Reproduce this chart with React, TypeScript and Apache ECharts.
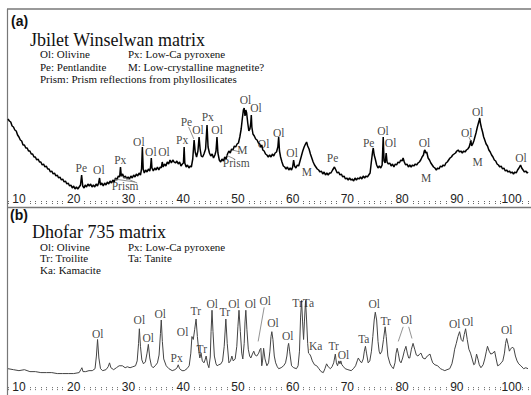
import React, { useEffect, useRef } from "react";
import * as echarts from "echarts";

// 2θ (deg) vs intensity (a.u.) — Jbilet Winselwan matrix
const jbiletTrace: [number, number][] = [
  [8.0, 88], [8.25, 86], [8.5, 85], [8.75, 81], [9.0, 80], [9.25, 77], [9.5, 76], [9.75, 72], [10.0, 70], [10.25, 67],
  [10.5, 66], [10.75, 62], [11.0, 62], [11.25, 59], [11.5, 59], [11.75, 56], [12.0, 56], [12.25, 53], [12.5, 53], [12.75, 50],
  [13.0, 50], [13.25, 47], [13.5, 48], [13.75, 45], [14.0, 45], [14.25, 42], [14.5, 43], [14.75, 40], [15.0, 41], [15.25, 38],
  [15.5, 38], [15.75, 35], [16.0, 36], [16.25, 33], [16.5, 34], [16.75, 31], [17.0, 32], [17.25, 29], [17.5, 30], [17.75, 27],
  [18.0, 28], [18.25, 25], [18.5, 26], [18.75, 23], [19.0, 24], [19.25, 21], [19.5, 22], [19.75, 19], [20.0, 21], [20.25, 18],
  [20.5, 20], [20.75, 18], [21.0, 20], [21.25, 22], [21.45, 32], [21.65, 21], [21.9, 19], [22.1, 22], [22.35, 20], [22.6, 23],
  [22.85, 21], [23.1, 23], [23.35, 20], [23.6, 22], [23.85, 20], [24.1, 23], [24.35, 21], [24.55, 24], [24.73, 29], [24.9, 22],
  [25.15, 24], [25.4, 21], [25.65, 24], [25.9, 22], [26.15, 25], [26.4, 23], [26.65, 26], [26.9, 24], [27.15, 27], [27.4, 25],
  [27.65, 29], [27.9, 27], [28.15, 31], [28.4, 30], [28.55, 40], [28.7, 31], [28.95, 33], [29.2, 29], [29.45, 31], [29.7, 28],
  [29.95, 30], [30.2, 28], [30.45, 31], [30.7, 29], [30.95, 32], [31.2, 30], [31.45, 33], [31.7, 31], [31.95, 34], [32.2, 32],
  [32.4, 38], [32.55, 60], [32.7, 38], [32.9, 34], [33.15, 37], [33.4, 35], [33.65, 38], [33.9, 36], [34.05, 40], [34.18, 49],
  [34.3, 39], [34.55, 36], [34.8, 39], [35.05, 37], [35.3, 40], [35.55, 37], [35.8, 40], [36.0, 39], [36.18, 45], [36.35, 40],
  [36.6, 43], [36.85, 41], [37.1, 45], [37.35, 43], [37.6, 47], [37.85, 44], [38.1, 47], [38.35, 45], [38.6, 44], [38.85, 46],
  [39.1, 43], [39.35, 45], [39.6, 41], [39.85, 43], [40.05, 44], [40.18, 60], [40.3, 44], [40.55, 40], [40.8, 42], [41.05, 39],
  [41.3, 41], [41.5, 40], [41.75, 48], [42.0, 67], [42.2, 55], [42.45, 50], [42.7, 56], [42.91, 70], [43.1, 58], [43.3, 51],
  [43.55, 50], [43.8, 53], [44.1, 58], [44.36, 82], [44.55, 60], [44.8, 54], [45.05, 51], [45.3, 53], [45.55, 49], [45.8, 52],
  [46.0, 56], [46.18, 70], [46.35, 54], [46.6, 47], [46.85, 45], [47.1, 48], [47.35, 46], [47.6, 50], [47.85, 48], [48.1, 53],
  [48.35, 56], [48.6, 54], [48.85, 58], [49.1, 57], [49.35, 61], [49.6, 60], [49.85, 63], [50.1, 64], [50.35, 70], [50.6, 78],
  [50.8, 88], [51.0, 97], [51.15, 99], [51.3, 91], [51.45, 97], [51.6, 94], [51.8, 84], [52.0, 76], [52.2, 78], [52.35, 84],
  [52.45, 92], [52.55, 80], [52.75, 73], [53.0, 71], [53.25, 68], [53.5, 67], [53.75, 64], [54.0, 63], [54.2, 60], [54.36, 62],
  [54.55, 57], [54.8, 56], [55.05, 53], [55.3, 52], [55.55, 50], [55.8, 52], [56.05, 50], [56.3, 53], [56.55, 51], [56.8, 54],
  [57.05, 55], [57.3, 60], [57.45, 70], [57.6, 56], [57.8, 50], [58.05, 45], [58.3, 41], [58.55, 40], [58.8, 38], [59.05, 40],
  [59.3, 37], [59.55, 39], [59.8, 37], [60.0, 40], [60.18, 47], [60.35, 41], [60.6, 39], [60.85, 42], [61.1, 41], [61.35, 46],
  [61.6, 51], [61.85, 56], [62.1, 60], [62.35, 63], [62.55, 65], [62.75, 61], [63.0, 58], [63.25, 53], [63.5, 49], [63.75, 45],
  [64.0, 42], [64.25, 40], [64.5, 38], [64.75, 37], [65.0, 35], [65.25, 36], [65.5, 33], [65.75, 35], [66.0, 32], [66.25, 34],
  [66.5, 32], [66.75, 34], [67.0, 34], [67.3, 37], [67.64, 40], [67.9, 37], [68.15, 34], [68.4, 35], [68.65, 32], [68.9, 33],
  [69.15, 30], [69.4, 31], [69.65, 28], [69.9, 29], [70.15, 27], [70.4, 29], [70.65, 27], [70.9, 28], [71.15, 26], [71.4, 29],
  [71.65, 27], [71.9, 29], [72.15, 28], [72.4, 30], [72.65, 28], [72.9, 31], [73.15, 29], [73.4, 31], [73.65, 30], [73.9, 32],
  [74.15, 34], [74.4, 46], [74.6, 55], [74.73, 59], [74.9, 52], [75.1, 48], [75.35, 42], [75.6, 39], [75.85, 41], [76.1, 39],
  [76.35, 42], [76.55, 70], [76.7, 46], [76.9, 44], [77.09, 54], [77.25, 45], [77.5, 43], [77.75, 44], [78.0, 41], [78.25, 43],
  [78.5, 40], [78.75, 43], [79.0, 42], [79.25, 45], [79.5, 44], [79.75, 47], [80.0, 46], [80.18, 49], [80.4, 45], [80.65, 42],
  [80.9, 43], [81.15, 40], [81.4, 42], [81.65, 40], [81.9, 42], [82.15, 41], [82.4, 43], [82.65, 42], [82.9, 44], [83.15, 45],
  [83.4, 47], [83.65, 50], [83.9, 52], [84.05, 56], [84.18, 57], [84.3, 54], [84.5, 55], [84.75, 49], [85.0, 47], [85.25, 44],
  [85.5, 42], [85.75, 40], [86.0, 39], [86.25, 37], [86.5, 39], [86.75, 38], [87.0, 41], [87.25, 40], [87.5, 42], [87.75, 41],
  [88.0, 44], [88.25, 45], [88.5, 47], [88.75, 49], [89.0, 50], [89.25, 52], [89.5, 53], [89.75, 54], [90.0, 56], [90.25, 57],
  [90.5, 55], [90.75, 56], [91.0, 54], [91.25, 56], [91.5, 55], [91.75, 57], [92.0, 58], [92.25, 60], [92.45, 64], [92.55, 67],
  [92.7, 61], [92.9, 63], [93.1, 66], [93.3, 70], [93.5, 74], [93.75, 80], [93.95, 84], [94.1, 87], [94.18, 89], [94.3, 84],
  [94.5, 79], [94.7, 75], [94.9, 70], [95.1, 67], [95.35, 63], [95.6, 61], [95.85, 57], [96.1, 55], [96.35, 52], [96.6, 50],
  [96.85, 47], [97.1, 46], [97.35, 43], [97.6, 42], [97.85, 40], [98.1, 41], [98.35, 38], [98.6, 39], [98.85, 36], [99.1, 37],
  [99.35, 35], [99.6, 36], [99.85, 34], [100.1, 35], [100.35, 33], [100.6, 35], [100.85, 34], [101.1, 37], [101.35, 39], [101.64, 42],
  [101.85, 39], [102.1, 37], [102.35, 35], [102.6, 36], [102.85, 34], [103.0, 35],
];

// 2θ (deg) vs intensity (a.u.) — Dhofar 735 matrix
const dhofarTrace: [number, number][] = [
  [8.0, 22], [9.0, 21], [10.0, 20], [11.0, 21], [12.0, 19], [13.0, 19], [14.0, 18], [15.0, 18], [16.0, 18], [17.0, 17],
  [18.0, 17], [19.0, 17], [20.0, 17], [21.0, 18], [21.3, 21], [21.5, 23], [21.7, 19], [22.2, 19], [22.8, 20], [23.4, 20],
  [23.9, 22], [24.15, 35], [24.36, 52], [24.6, 33], [24.9, 22], [25.3, 20], [25.9, 21], [26.3, 24], [26.55, 28], [26.8, 23],
  [27.3, 21], [27.8, 23], [28.3, 25], [28.9, 25], [29.4, 23], [29.8, 24], [30.3, 23], [30.8, 24], [31.3, 25], [31.6, 30],
  [31.85, 48], [32.0, 63], [32.2, 45], [32.45, 31], [32.75, 27], [33.1, 29], [33.4, 38], [33.64, 47], [33.9, 33], [34.2, 25],
  [34.5, 23], [34.9, 25], [35.3, 28], [35.6, 36], [35.85, 58], [36.0, 72], [36.2, 50], [36.45, 32], [36.9, 25], [37.4, 22],
  [38.0, 20], [38.5, 21], [38.9, 23], [39.1, 26], [39.35, 22], [39.8, 20], [40.2, 20], [40.7, 22], [41.1, 25], [41.4, 38],
  [41.6, 55], [41.85, 52], [42.1, 62], [42.36, 73], [42.6, 55], [42.85, 40], [43.05, 33], [43.27, 38], [43.5, 30], [43.8, 28],
  [44.0, 31], [44.2, 35], [44.45, 27], [44.7, 23], [44.95, 34], [45.1, 60], [45.27, 82], [45.45, 60], [45.7, 35], [46.0, 27],
  [46.2, 25], [46.5, 26], [46.9, 27], [47.2, 30], [47.5, 45], [47.8, 73], [48.05, 48], [48.36, 28], [48.65, 30], [48.9, 35],
  [49.15, 30], [49.5, 32], [49.8, 45], [50.0, 65], [50.2, 82], [50.45, 60], [50.7, 38], [50.9, 32], [51.15, 48], [51.3, 70],
  [51.45, 82], [51.65, 62], [51.9, 42], [52.15, 35], [52.36, 33], [52.65, 37], [52.9, 40], [53.15, 36], [53.45, 35], [53.8, 38],
  [54.05, 42], [54.2, 43], [54.36, 25], [54.5, 30], [54.7, 43], [54.95, 32], [55.3, 25], [55.6, 28], [55.85, 40], [56.05, 55],
  [56.2, 60], [56.4, 52], [56.65, 35], [56.9, 28], [57.2, 24], [57.45, 22], [57.9, 23], [58.36, 25], [58.7, 28], [58.95, 35],
  [59.15, 45], [59.27, 48], [59.45, 40], [59.8, 25], [60.2, 23], [60.7, 22], [61.0, 25], [61.25, 40], [61.45, 75], [61.64, 92],
  [61.82, 70], [62.0, 52], [62.15, 70], [62.36, 92], [62.55, 72], [62.75, 48], [62.9, 38], [63.1, 37], [63.3, 35], [63.6, 30],
  [64.0, 26], [64.4, 25], [64.8, 22], [65.2, 19], [65.6, 18], [65.9, 22], [66.2, 27], [66.5, 24], [66.9, 22], [67.2, 24],
  [67.5, 28], [67.8, 37], [68.0, 28], [68.2, 25], [68.45, 30], [68.65, 27], [68.8, 30], [69.0, 26], [69.3, 24], [69.6, 22],
  [70.1, 21], [70.7, 20], [71.1, 22], [71.5, 25], [71.8, 30], [72.0, 33], [72.3, 30], [72.6, 28], [72.9, 32], [73.1, 40],
  [73.3, 45], [73.5, 38], [73.8, 28], [74.1, 30], [74.4, 40], [74.65, 55], [74.9, 72], [75.1, 80], [75.35, 72], [75.6, 50],
  [75.8, 40], [76.0, 37], [76.3, 40], [76.6, 52], [76.9, 65], [77.1, 55], [77.4, 35], [77.8, 27], [78.1, 24], [78.4, 22],
  [78.7, 28], [78.9, 38], [79.1, 43], [79.3, 38], [79.55, 30], [79.8, 28], [80.1, 33], [80.4, 40], [80.7, 45], [80.95, 38],
  [81.2, 33], [81.4, 33], [81.7, 42], [82.0, 48], [82.3, 42], [82.6, 36], [82.9, 35], [83.2, 37], [83.45, 38], [83.8, 33],
  [84.2, 32], [84.6, 35], [85.1, 37], [85.35, 32], [85.6, 28], [86.0, 26], [86.5, 25], [87.0, 22], [87.4, 21], [87.8, 20],
  [88.2, 21], [88.7, 22], [89.1, 27], [89.4, 35], [89.6, 42], [89.9, 48], [90.2, 55], [90.5, 60], [90.8, 52], [91.1, 50],
  [91.35, 57], [91.6, 63], [91.9, 52], [92.2, 42], [92.5, 38], [92.8, 32], [93.1, 26], [93.3, 27], [93.6, 37], [93.85, 32],
  [94.1, 26], [94.4, 23], [94.8, 26], [95.1, 32], [95.4, 40], [95.6, 45], [95.9, 40], [96.2, 37], [96.6, 38], [96.9, 40],
  [97.15, 33], [97.45, 25], [97.8, 26], [98.1, 28], [98.4, 30], [98.7, 38], [98.9, 48], [99.1, 53], [99.35, 47], [99.6, 40],
  [99.8, 42], [100.1, 44], [100.4, 43], [100.7, 35], [101.0, 30], [101.3, 27], [101.7, 25], [102.2, 22], [102.6, 23], [103.0, 22],
];

// Peak annotations: [label, 2θ, intensity]
const jbiletPeaks: [string, number, number][] = [
  ["Pe", 21.4, 39], ["Ol", 24.6, 37], ["Px", 28.5, 47], ["Prism", 29.4, 21.5], ["Ol", 31.9, 65],
  ["Ol", 34.1, 55], ["Ol", 36.5, 55], ["Px", 39.8, 67], ["Pe", 40.6, 85], ["Ol", 42.7, 77],
  ["Px", 44.5, 90], ["Ol", 46.2, 77], ["Prism", 49.7, 44], ["M", 50.8, 57], ["Ol", 51.4, 107],
  ["Ol", 53.3, 99], ["Ol", 54.7, 63], ["Ol", 57.45, 74], ["Ol", 59.9, 54], ["M", 62.6, 35],
  ["Pe", 67.3, 49], ["Pe", 73.9, 64], ["Ol", 76.5, 76], ["Ol", 77.9, 64], ["Ol", 84.1, 64],
  ["M", 84.4, 29], ["Ol", 91.8, 74], ["Ol", 93.8, 95], ["M", 93.8, 45], ["Ol", 101.7, 49],
];

const dhofarPeaks: [string, number, number][] = [
  ["Ol", 24.4, 58], ["Ol", 32.0, 72], ["Ol", 33.6, 54], ["Ol", 35.8, 78], ["Px", 38.8, 33],
  ["Ol", 39.9, 60], ["Tr", 42.3, 81], ["Tr", 43.4, 42], ["Ol", 45.3, 88], ["Tr", 47.6, 80],
  ["Ol", 49.3, 88], ["Ol", 52.3, 88], ["Ol", 55.0, 92], ["Ol", 56.4, 69], ["Ol", 59.1, 56],
  ["Tr", 60.9, 89], ["Ta", 62.9, 89], ["Ka", 64.2, 45], ["Tr", 67.5, 45], ["Ol", 69.3, 36],
  ["Ta", 73.0, 53], ["Ol", 74.9, 88], ["Tr", 77.0, 71], ["Ol", 80.8, 72], ["Ol", 89.6, 68],
  ["Ol", 92.0, 70], ["Ol", 99.1, 62],
];

// Leader lines: [2θ start, intensity start, 2θ end, intensity end]
const jbiletLeaders: [number, number, number, number][] = [
  [41.0, 80, 41.95, 68],
  [27.4, 28, 31.2, 25],
  [28.6, 31, 31.6, 24],
  [47.8, 52, 49.4, 48],
  [49.0, 57, 50.4, 55],
  [92.2, 70, 92.55, 66],
];

const dhofarLeaders: [number, number, number, number][] = [
  [54.8, 85, 53.7, 50],
  [80.2, 65, 79.3, 50],
  [81.2, 65, 81.8, 53],
];

const legendA: string[][] = [
  ["Ol: Olivine", "Px: Low-Ca pyroxene"],
  ["Pe: Pentlandite", "M: Low-crystalline magnetite?"],
  ["Prism: Prism reflections from phyllosilicates"],
];
const legendB: string[][] = [
  ["Ol: Olivine", "Px: Low-Ca pyroxene"],
  ["Tr: Troilite", "Ta: Tanite"],
  ["Ka: Kamacite"],
];

const SERIF = "'Liberation Serif', 'Times New Roman', serif";
const SANS = "'Liberation Sans', Arial, sans-serif";

export default function App() {
  const ref = useRef<HTMLDivElement>(null);

  useEffect(() => {
    const chart = echarts.init(ref.current!, null, { renderer: "svg" });

    const xAxisFor = (gridIndex: number) => ({
      gridIndex,
      type: "value",
      min: 8,
      max: 103,
      interval: 1,
      offset: -3,
      axisLine: { show: false },
      axisTick: {
        show: true,
        inside: true,
        length: 4,
        lineStyle: { color: "#666", width: 1, type: "dotted" },
      },
      axisLabel: {
        inside: true,
        margin: 5,
        verticalAlign: "middle",
        fontFamily: SANS,
        fontSize: 12,
        color: "#222",
        backgroundColor: "#fff",
        padding: 0,
        formatter: (v: number) => (v % 10 === 0 ? String(v) : ""),
      },
      splitLine: { show: false },
    });

    const peakSeries = (idx: number, peaks: [string, number, number][], leaders: [number, number, number, number][]) => ({
      type: "scatter",
      xAxisIndex: idx,
      yAxisIndex: idx,
      symbolSize: 0,
      silent: true,
      z: 5,
      data: peaks.map(([n, x, y]) => ({ name: n, value: [x, y] })),
      label: {
        show: true,
        position: "inside",
        formatter: "{b}",
        fontFamily: SERIF,
        fontSize: 11.5,
        color: "#111",
      },
      markLine: {
        silent: true,
        symbol: ["none", "none"],
        label: { show: false },
        lineStyle: { color: "#777", width: 0.8, type: "solid" },
        data: leaders.map(([x1, y1, x2, y2]) => [{ coord: [x1, y1] }, { coord: [x2, y2] }]),
      },
    });

    const graphics: any[] = [
      { type: "line", shape: { x1: 7, y1: 9, x2: 531, y2: 9 }, style: { stroke: "#777", lineWidth: 1.5 } },
      { type: "line", shape: { x1: 7.5, y1: 9, x2: 7.5, y2: 395 }, style: { stroke: "#777", lineWidth: 1.2 } },
      { type: "line", shape: { x1: 7, y1: 207.5, x2: 531, y2: 207.5 }, style: { stroke: "#777", lineWidth: 1.5 } },
    ];
    const addText = (text: string, x: number, y: number, font: string) =>
      graphics.push({
        type: "text",
        x,
        y,
        style: { text, font, fill: "#111", verticalAlign: "middle", align: "left" },
      });

    addText("(a)", 11, 21, `bold 14px ${SANS}`);
    addText("Jbilet Winselwan matrix", 30, 39.5, `18px ${SERIF}`);
    const rowsA = [54, 66.5, 78.5];
    legendA.forEach((row, i) => row.forEach((t, j) => addText(t, j === 0 ? 40 : 128, rowsA[i], `11px ${SERIF}`)));

    addText("(b)", 10, 215, `bold 14px ${SANS}`);
    addText("Dhofar 735 matrix", 32, 231.5, `18px ${SERIF}`);
    const rowsB = [246.5, 258, 269.5];
    legendB.forEach((row, i) => row.forEach((t, j) => addText(t, j === 0 ? 40 : 128, rowsB[i], `11px ${SERIF}`)));

    chart.setOption({
      animation: false,
      grid: [
        { left: 8, right: 1, top: 9, height: 198 },
        { left: 8, right: 1, top: 207, height: 193 },
      ],
      xAxis: [xAxisFor(0), xAxisFor(1)],
      yAxis: [
        { gridIndex: 0, type: "value", min: 0, max: 198, show: false },
        { gridIndex: 1, type: "value", min: -5, max: 188, show: false },
      ],
      series: [
        {
          type: "line",
          xAxisIndex: 0,
          yAxisIndex: 0,
          data: jbiletTrace,
          showSymbol: false,
          symbol: "none",
          lineStyle: { color: "#000", width: 1.5 },
          silent: true,
        },
        {
          type: "line",
          xAxisIndex: 1,
          yAxisIndex: 1,
          data: dhofarTrace,
          showSymbol: false,
          symbol: "none",
          lineStyle: { color: "#444", width: 1 },
          silent: true,
        },
        peakSeries(0, jbiletPeaks, jbiletLeaders),
        peakSeries(1, dhofarPeaks, dhofarLeaders),
      ],
      graphic: graphics,
    });

    return () => chart.dispose();
  }, []);

  return (
    <div
      ref={ref}
      style={{ position: "fixed", left: 0, top: 0, width: 531, height: 395, background: "#fff" }}
    />
  );
}
